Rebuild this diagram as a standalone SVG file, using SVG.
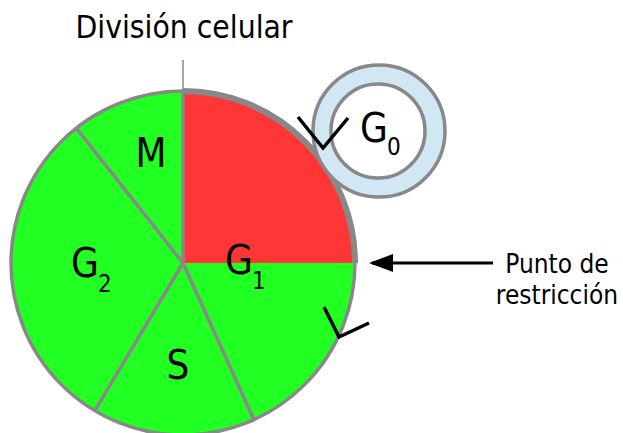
<svg xmlns="http://www.w3.org/2000/svg" width="623" height="433" viewBox="0 0 623 433">
<defs>
<style>
.lbl{font-family:"DejaVu Sans Condensed","DejaVu Sans",sans-serif;fill:#000}
.big{font-size:40px}
.sub{font-size:24px}
.div{stroke:#888;stroke-width:3.5;fill:none}
.chk{stroke:#000;stroke-width:3.5;fill:none}
</style>
<marker id="ah" markerWidth="8" markerHeight="6" refX="7" refY="3" orient="auto" markerUnits="strokeWidth">
<path d="M0,0 L8,3 L0,6 Z" fill="#000"/>
</marker>
</defs>
<rect width="623" height="433" fill="#fff"/>
<text class="lbl" x="184" y="38" font-size="31.5" text-anchor="middle">División celular</text>
<g id="cycle">
<circle cx="183" cy="263" r="172" fill="#22ff22" stroke="#888" stroke-width="3.5"/>
<path d="M183,263 L183,91 A172,172 0 0,1 355,263 Z" fill="#ff3636"/>
<path d="M183,91 A172,172 0 0,1 355,263" fill="none" stroke="#888" stroke-width="6"/>
</g>
<g id="g0">
<circle cx="379" cy="131" r="66" fill="#d2e7f4" stroke="#888" stroke-width="3.5"/>
<circle cx="378" cy="131" r="47" fill="#fff" stroke="#888" stroke-width="3.5"/>
<text class="lbl big" x="360" y="142">G</text>
<text class="lbl sub" x="387" y="155">0</text>
</g>
<g id="connectors">
<line x1="183" y1="60" x2="183" y2="91" stroke="#888" stroke-width="1.5"/>
<line class="div" x1="183" y1="91" x2="183" y2="263"/>
<line class="div" x1="183" y1="263" x2="76.3" y2="128.1"/>
<line class="div" x1="183" y1="263" x2="94.8" y2="410.7"/>
<line class="div" x1="183" y1="263" x2="254" y2="420"/>
<line x1="493" y1="263" x2="372" y2="263" stroke="#000" stroke-width="3" marker-end="url(#ah)"/>
<polyline class="chk" points="298,117 323,148 348,118"/>
<polyline class="chk" points="324,307 339,337 369,323"/>
</g>
<g id="m"><text class="lbl big" x="151" y="167" text-anchor="middle">M</text></g>
<g id="g1">
<text class="lbl big" x="225" y="274">G</text>
<text class="lbl sub" x="252" y="289">1</text>
</g>
<g id="g2">
<text class="lbl big" x="71" y="277">G</text>
<text class="lbl sub" x="98" y="292">2</text>
</g>
<g id="s"><text class="lbl big" x="178" y="379" text-anchor="middle">S</text></g>
<g id="punto">
<text class="lbl" font-size="26" text-anchor="middle"><tspan x="557" y="273">Punto de</tspan><tspan x="557" y="304">restricción</tspan></text>
</g>
</svg>
